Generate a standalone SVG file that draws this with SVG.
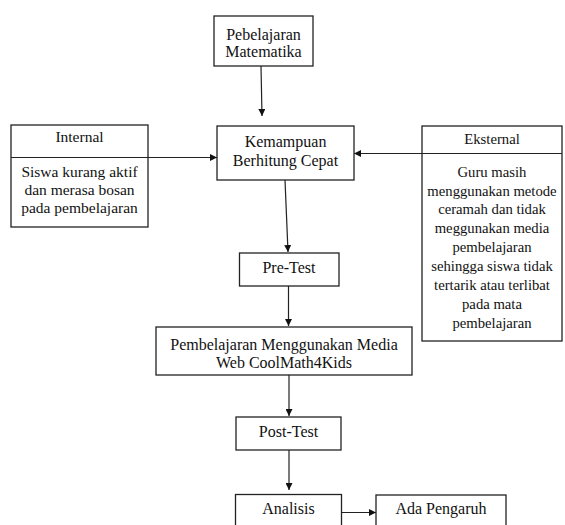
<svg xmlns="http://www.w3.org/2000/svg" width="565" height="525" viewBox="0 0 565 525">
<style>
.box{fill:#fff;stroke:#222;stroke-width:1.3}
.t{font-family:"Liberation Serif","Times New Roman",serif;font-size:16px;fill:#111;text-anchor:middle}
.s{font-family:"Liberation Serif","Times New Roman",serif;font-size:14.7px;fill:#111;text-anchor:middle}
.i{font-family:"Liberation Serif","Times New Roman",serif;font-size:15.5px;fill:#111;text-anchor:middle}
.ln{stroke:#222;stroke-width:1.2;fill:none;marker-end:url(#ah)}
</style>
<defs>
<marker id="ah" viewBox="0 0 10 10" refX="10" refY="5" markerWidth="7" markerHeight="7" markerUnits="userSpaceOnUse" orient="auto">
<path d="M0,0 L10,5 L0,10 z" fill="#111"/>
</marker>
</defs>
<rect width="565" height="525" fill="#fff"/>
<g id="connectors">
<line class="ln" x1="261" y1="66" x2="262" y2="116"/>
<line class="ln" x1="148" y1="157.5" x2="217" y2="157.5"/>
<line class="ln" x1="422" y1="153.5" x2="354" y2="153.5"/>
<line class="ln" x1="285" y1="180" x2="288" y2="252"/>
<line class="ln" x1="288.5" y1="286" x2="288.5" y2="326"/>
<line class="ln" x1="289" y1="375" x2="289" y2="416"/>
<line class="ln" x1="289" y1="450" x2="289" y2="490"/>
<line class="ln" x1="341" y1="512.5" x2="376" y2="512.5"/>
</g>
<g id="n-matematika">
<rect class="box" x="214" y="16" width="99" height="50"/>
<text class="t" x="263.5" y="40">Pebelajaran</text>
<text class="t" x="263.5" y="57">Matematika</text>
</g>
<g id="n-internal">
<rect class="box" x="11" y="125" width="137" height="102"/>
<line x1="11" y1="157.5" x2="148" y2="157.5" stroke="#222" stroke-width="1.2"/>
<text class="i" x="79.5" y="142">Internal</text>
<text class="i" x="79.5" y="176.5">Siswa kurang aktif</text>
<text class="i" x="79.5" y="194.5">dan merasa bosan</text>
<text class="i" x="79.5" y="212.5">pada pembelajaran</text>
</g>
<g id="n-kemampuan">
<rect class="box" x="217" y="126" width="137" height="54"/>
<text class="t" x="285.5" y="147">Kemampuan</text>
<text class="t" x="285.5" y="166">Berhitung Cepat</text>
</g>
<g id="n-eksternal">
<rect class="box" x="422" y="126" width="140" height="215"/>
<line x1="422" y1="153.5" x2="562" y2="153.5" stroke="#222" stroke-width="1.2"/>
<text class="s" x="492" y="144">Eksternal</text>
<text class="s" x="492" y="177">Guru masih</text>
<text class="s" x="492" y="195.5">menggunakan metode</text>
<text class="s" x="492" y="214">ceramah dan tidak</text>
<text class="s" x="492" y="233">meggunakan media</text>
<text class="s" x="492" y="252">pembelajaran</text>
<text class="s" x="492" y="271">sehingga siswa tidak</text>
<text class="s" x="492" y="290">tertarik atau terlibat</text>
<text class="s" x="492" y="309">pada mata</text>
<text class="s" x="492" y="328">pembelajaran</text>
</g>
<g id="n-pretest">
<rect class="box" x="239.5" y="253" width="99.5" height="33"/>
<text class="t" x="289" y="273">Pre-Test</text>
</g>
<g id="n-pembelajaran">
<rect class="box" x="156" y="327" width="256" height="48"/>
<text class="t" x="284" y="350">Pembelajaran Menggunakan Media</text>
<text class="t" x="284" y="367.5">Web CoolMath4Kids</text>
</g>
<g id="n-posttest">
<rect class="box" x="236" y="417" width="105" height="33"/>
<text class="t" x="288.5" y="437">Post-Test</text>
</g>
<g id="n-analisis">
<rect class="box" x="235.5" y="494.5" width="106" height="40"/>
<text class="t" x="288.5" y="513.5">Analisis</text>
</g>
<g id="n-pengaruh">
<rect class="box" x="376" y="495" width="130" height="40"/>
<text class="t" x="441" y="514">Ada Pengaruh</text>
</g>
</svg>
